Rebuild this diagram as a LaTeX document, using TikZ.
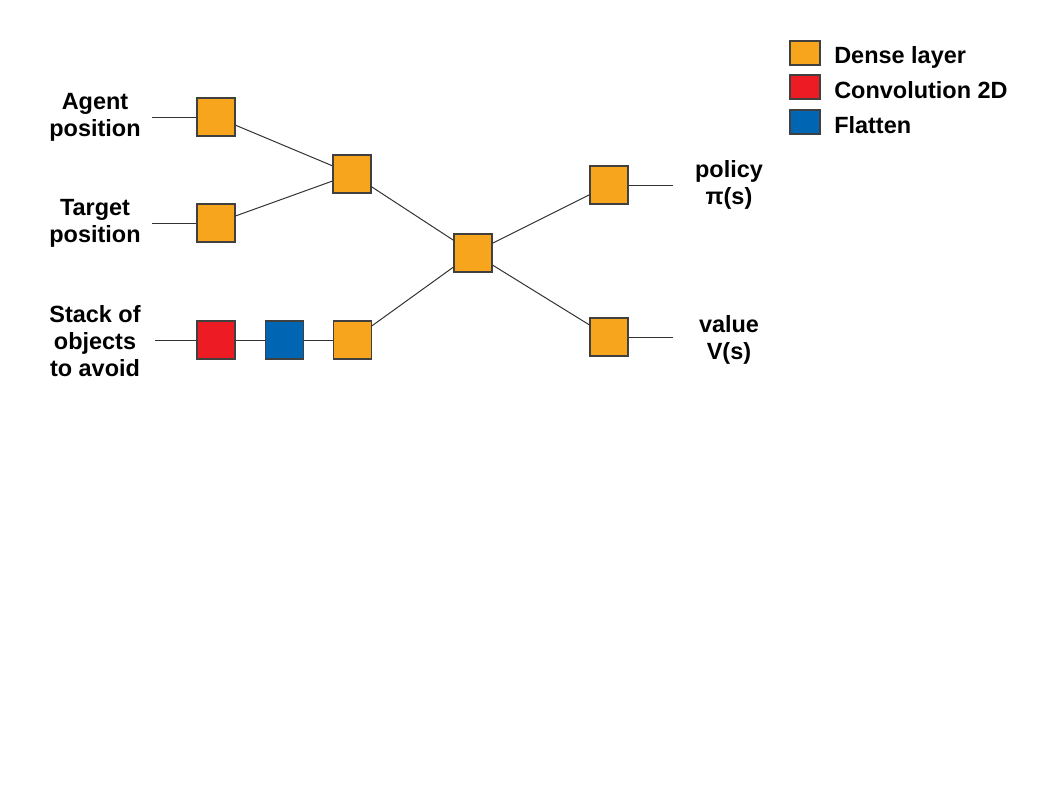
\documentclass[tikz,border=0pt]{standalone}
\usepackage{fontspec}
\setmainfont{Liberation Sans}
\usetikzlibrary{positioning}
\definecolor{netorange}{HTML}{F8A51E}
\definecolor{netred}{HTML}{ED1C24}
\definecolor{netblue}{HTML}{0066B3}
\definecolor{netline}{HTML}{333333}

\begin{document}
\begin{tikzpicture}[x=0.75pt, y=-0.75pt, node distance=21.8pt,
  layer/.style={rectangle, draw=black!75, line width=0.8pt, minimum size=28.5pt, inner sep=0pt},
  dense/.style={layer, fill=netorange},
  conv/.style={layer, fill=netred},
  flat/.style={layer, fill=netblue},
  key/.style={rectangle, draw=black!75, line width=0.8pt, minimum width=22.5pt,
              minimum height=18pt, inner sep=0pt},
  lbl/.style={align=center, inner sep=0pt, font=\fontsize{17.6}{20.3}\selectfont\bfseries},
  wire/.style={netline, line width=0.75pt}]
  \useasboundingbox (0,0) rectangle (1058,794);

  % inputs
  \node[lbl] (agentlbl) at (95,117) {Agent\\position};
  \node[lbl] (targetlbl) at (95,223) {Target\\position};
  \node[lbl] (stacklbl) at (95,341) {Stack of\\objects\\to avoid};
  \coordinate (agentin) at (152,117);
  \coordinate (targetin) at (152,223);
  \coordinate (stackin) at (155,340);

  % layers
  \node[dense] (agent) at (216,117) {};
  \node[dense] (target) at (216,223) {};
  \node[dense] (merge) at (352,174) {};
  \node[conv] (conv) at (216,340) {};
  \node[flat, right=of conv] (flatten) {};
  \node[dense, right=of flatten] (stack) {};
  \node[dense] (joint) at (473,253) {};
  \node[dense] (policy) at (609,185) {};
  \node[dense] (value) at (609,337) {};

  % outputs
  \coordinate (policyout) at (673,185);
  \coordinate (valueout) at (673,337);
  \node[lbl] (policylbl) at (729,185) {policy\\π(s)};
  \node[lbl] (valuelbl) at (729,340) {value\\V(s)};

  \draw[wire] (agentin) -- (agent);
  \draw[wire] (targetin) -- (target);
  \draw[wire] (stackin) -- (conv);
  \draw[wire] (conv) -- (flatten);
  \draw[wire] (flatten) -- (stack);
  \draw[wire] (agent) -- (merge);
  \draw[wire] (target) -- (merge);
  \draw[wire] (merge) -- (joint);
  \draw[wire] (stack) -- (joint);
  \draw[wire] (joint) -- (policy);
  \draw[wire] (joint) -- (value);
  \draw[wire] (policy) -- (policyout);
  \draw[wire] (value) -- (valueout);

  % legend
  \node[key, fill=netorange] (keydense) at (805,53) {};
  \node[key, fill=netred] (keyconv) at (805,87) {};
  \node[key, fill=netblue] (keyflat) at (805,122) {};
  \node[lbl, anchor=base west] (keydenselbl) at (834,63) {Dense layer};
  \node[lbl, anchor=base west] (keyconvlbl) at (834,98) {Convolution 2D};
  \node[lbl, anchor=base west] (keyflatlbl) at (834,133) {Flatten};
\end{tikzpicture}
\end{document}
